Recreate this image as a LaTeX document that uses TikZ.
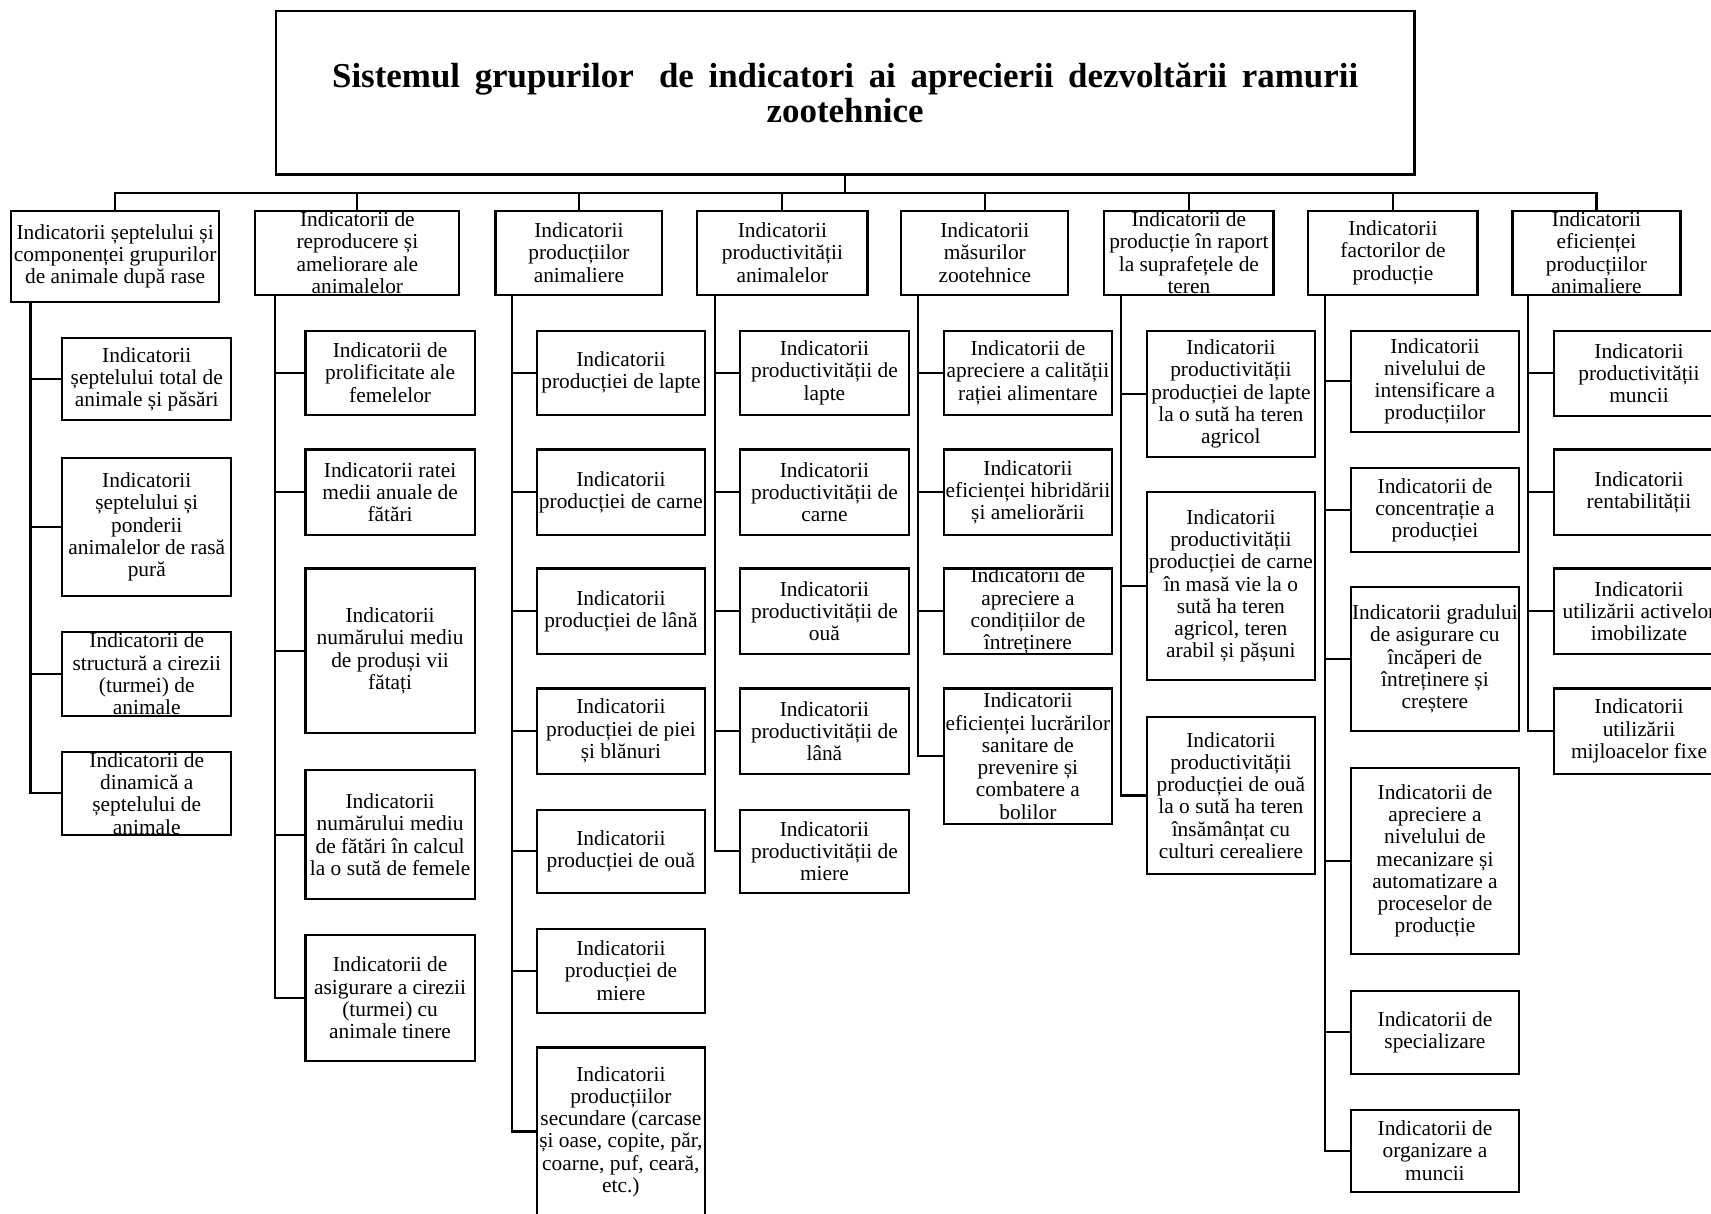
\documentclass[tikz,border=0pt]{standalone}
\usepackage{fontspec}
\setmainfont{Liberation Serif}
\tikzset{
  bx/.style={draw, line width=1pt, inner sep=0pt},
  txt/.style={align=center, inner sep=0pt, font=\fontsize{9.8}{10.2}\selectfont},
  ttl/.style={align=center, inner sep=0pt, font=\fontsize{16}{16}\selectfont\bfseries},
  ln/.style={line width=1pt},
}
\newcommand\mybox[6]{%
  \node[bx, minimum width={(#4-#2)*0.5pt}, minimum height={(#5-#3)*0.5pt}] (#1) at ({(#2+#4)/2},{(#3+#5)/2}) {};
  \node[txt] (#1t) at (#1.center) {#6};}
\begin{document}
\begin{tikzpicture}[x=0.5pt, y=-0.5pt]
\useasboundingbox (0,0) rectangle (1568,1112);
% title
\node[draw, line width=1.2pt, minimum width=521.5pt, minimum height=75pt] (title) at (774.5,85) {};
\node[ttl] (titlet) at (title.center) {\spaceskip=0.42em\relax Sistemul grupurilor\hspace{0.3em} de indicatori ai aprecierii dezvoltării ramurii\\zootehnice};
% level 1
\mybox{p1}{10}{193}{201}{277}{Indicatorii șeptelului și\\componenței grupurilor\\de animale după rase}
\mybox{p2}{234}{193}{421}{270}{Indicatorii de\\reproducere și\\ameliorare ale\\animalelor}
\mybox{p3}{454}{193}{607}{270}{Indicatorii\\producțiilor\\animaliere}
\mybox{p4}{639}{193}{795}{270}{Indicatorii\\productivității\\animalelor}
\mybox{p5}{826}{193}{979}{270}{Indicatorii\\măsurilor\\zootehnice}
\mybox{p6}{1012}{193}{1167}{270}{Indicatorii de\\producție în raport\\la suprafețele de\\teren}
\mybox{p7}{1199}{193}{1354}{270}{Indicatorii\\factorilor de\\producție}
\mybox{p8}{1386}{193}{1540}{270}{Indicatorii\\eficienței\\producțiilor\\animaliere}
% col 1
\mybox{a1}{57}{310}{212}{385}{Indicatorii\\șeptelului total de\\animale și păsări}
\mybox{a2}{57}{420}{212}{546}{Indicatorii\\șeptelului și\\ponderii\\animalelor de rasă\\pură}
\mybox{a3}{57}{579}{212}{656}{Indicatorii de\\structură a cirezii\\(turmei) de\\animale}
\mybox{a4}{57}{689}{212}{765}{Indicatorii de\\dinamică a\\șeptelului de\\animale}
% col 2
\mybox{b1}{280}{303}{435}{380}{Indicatorii de\\prolificitate ale\\femelelor}
\mybox{b2}{280}{412}{435}{490}{Indicatorii ratei\\medii anuale de\\fătări}
\mybox{b3}{280}{521}{435}{672}{Indicatorii\\numărului mediu\\de produși vii\\fătați}
\mybox{b4}{280}{706}{435}{824}{Indicatorii\\numărului mediu\\de fătări în calcul\\la o sută de femele}
\mybox{b5}{280}{857}{435}{972}{Indicatorii de\\asigurare a cirezii\\(turmei) cu\\animale tinere}
% col 3
\mybox{c1}{492}{303}{646}{380}{Indicatorii\\producției de lapte}
\mybox{c2}{492}{412}{646}{490}{Indicatorii\\producției de carne}
\mybox{c3}{492}{521}{646}{599}{Indicatorii\\producției de lână}
\mybox{c4}{492}{631}{646}{709}{Indicatorii\\producției de piei\\și blănuri}
\mybox{c5}{492}{742}{646}{818}{Indicatorii\\producției de ouă}
\mybox{c6}{492}{851}{646}{928}{Indicatorii\\producției de\\miere}
\mybox{c7}{492}{960}{646}{1114}{Indicatorii\\producțiilor\\secundare (carcase\\și oase, copite, păr,\\coarne, puf, ceară,\\etc.)}
% col 4
\mybox{d1}{678}{303}{833}{380}{Indicatorii\\productivității de\\lapte}
\mybox{d2}{678}{412}{833}{490}{Indicatorii\\productivității de\\carne}
\mybox{d3}{678}{521}{833}{599}{Indicatorii\\productivității de\\ouă}
\mybox{d4}{678}{631}{833}{709}{Indicatorii\\productivității de\\lână}
\mybox{d5}{678}{742}{833}{818}{Indicatorii\\productivității de\\miere}
% col 5
\mybox{e1}{865}{303}{1019}{380}{Indicatorii de\\apreciere a calității\\rației alimentare}
\mybox{e2}{865}{412}{1019}{490}{Indicatorii\\eficienței hibridării\\și ameliorării}
\mybox{e3}{865}{521}{1019}{599}{Indicatorii de\\apreciere a\\condițiilor de\\întreținere}
\mybox{e4}{865}{631}{1019}{755}{Indicatorii\\eficienței lucrărilor\\sanitare de\\prevenire și\\combatere a\\bolilor}
% col 6
\mybox{f1}{1051}{303}{1205}{419}{Indicatorii\\productivității\\producției de lapte\\la o sută ha teren\\agricol}
\mybox{f2}{1051}{451}{1205}{623}{Indicatorii\\productivității\\producției de carne\\în masă vie la o\\sută ha teren\\agricol, teren\\arabil și pășuni}
\mybox{f3}{1051}{657}{1205}{801}{Indicatorii\\productivității\\producției de ouă\\la o sută ha teren\\însămânțat cu\\culturi cerealiere}
% col 7
\mybox{g1}{1238}{303}{1392}{396}{Indicatorii\\nivelului de\\intensificare a\\producțiilor}
\mybox{g2}{1238}{429}{1392}{506}{Indicatorii de\\concentrație a\\producției}
\mybox{g3}{1238}{538}{1392}{670}{Indicatorii gradului\\de asigurare cu\\încăperi de\\întreținere și\\creștere}
\mybox{g4}{1238}{704}{1392}{874}{Indicatorii de\\apreciere a\\nivelului de\\mecanizare și\\automatizare a\\proceselor de\\producție}
\mybox{g5}{1238}{908}{1392}{984}{Indicatorii de\\specializare}
\mybox{g6}{1238}{1017}{1392}{1092}{Indicatorii de\\organizare a\\muncii}
% col 8
\mybox{h1}{1424}{303}{1580}{381}{Indicatorii\\productivității\\muncii}
\mybox{h2}{1424}{412}{1580}{490}{Indicatorii\\rentabilității}
\mybox{h3}{1424}{521}{1580}{599}{Indicatorii\\utilizării activelor\\imobilizate}
\mybox{h4}{1424}{631}{1580}{709}{Indicatorii\\utilizării\\mijloacelor fixe}
% connectors top
\coordinate (bus) at (774.5,177);
\draw[ln] (title.south) -- (bus);
\foreach \p in {p1,p2,p3,p4,p5,p6,p7,p8} \draw[ln] (bus) -| (\p.north);
% column connectors
\foreach \c in {a1,a2,a3,a4} \draw[ln] ([xshift=9.5pt]p1.south west) |- (\c.west);
\foreach \c in {b1,b2,b3,b4,b5} \draw[ln] ([xshift=9.5pt]p2.south west) |- (\c.west);
\foreach \c in {c1,c2,c3,c4,c5,c6,c7} \draw[ln] ([xshift=8pt]p3.south west) |- (\c.west);
\foreach \c in {d1,d2,d3,d4,d5} \draw[ln] ([xshift=8.5pt]p4.south west) |- (\c.west);
\foreach \c in {e1,e2,e3,e4} \draw[ln] ([xshift=8pt]p5.south west) |- (\c.west);
\foreach \c in {f1,f2,f3} \draw[ln] ([xshift=8pt]p6.south west) |- (\c.west);
\foreach \c in {g1,g2,g3,g4,g5,g6} \draw[ln] ([xshift=8pt]p7.south west) |- (\c.west);
\foreach \c in {h1,h2,h3,h4} \draw[ln] ([xshift=7.5pt]p8.south west) |- (\c.west);
\end{tikzpicture}
\end{document}
